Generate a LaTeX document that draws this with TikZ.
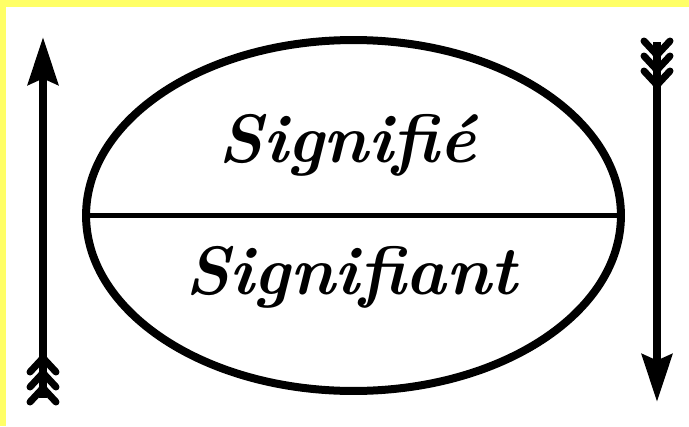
\documentclass[tikz,border=0pt]{standalone}
\usetikzlibrary{arrows.meta,shapes.geometric}
\definecolor{frameyellow}{HTML}{FFFF66}
\begin{document}
\begin{tikzpicture}[x=0.02cm,y=-0.02cm,>={Stealth[length=0.95cm,width=0.6cm,inset=0.12cm]},sign/.style={draw,ellipse,line width=0.16cm,minimum width=10.7cm,minimum height=7.02cm,inner sep=0pt},bar/.style={line width=0.1cm},shaft/.style={->,line width=0.17cm},feather/.style={line width=0.14cm,line cap=round,line join=round},word/.style={font=\fontsize{39}{42}\selectfont\bfseries\itshape,inner sep=0pt,anchor=base}]
\fill[frameyellow] (0,0) rectangle (689,426);
\fill[white] (6,7) rectangle (689,426);
\useasboundingbox (0,0) rectangle (689,426);
\node[sign] (sign) at (353.5,215.5) {};
\draw[bar] (sign.west) -- (sign.east);
\node[word] (signifie) at (347,162) {Signifié};
\node[word] (signifiant) at (351,294) {Signifiant};
\coordinate (uptail) at (43,398); \coordinate (uphead) at (43,37);
\coordinate (downtail) at (657,42); \coordinate (downhead) at (657,402);
\draw[shaft] (uptail) -- (uphead);
\draw[shaft] (downtail) -- (downhead);
% feathers at the tails
\foreach \d in {10,25,40} {
  \draw[feather] ([shift={(-13,14-\d)}]uptail) -- ([shift={(0,-\d)}]uptail) -- ([shift={(13,14-\d)}]uptail);
  \draw[feather] ([shift={(-13,\d-14+3)}]downtail) -- ([shift={(0,\d+3)}]downtail) -- ([shift={(13,\d-14+3)}]downtail);
}
\end{tikzpicture}
\end{document}
